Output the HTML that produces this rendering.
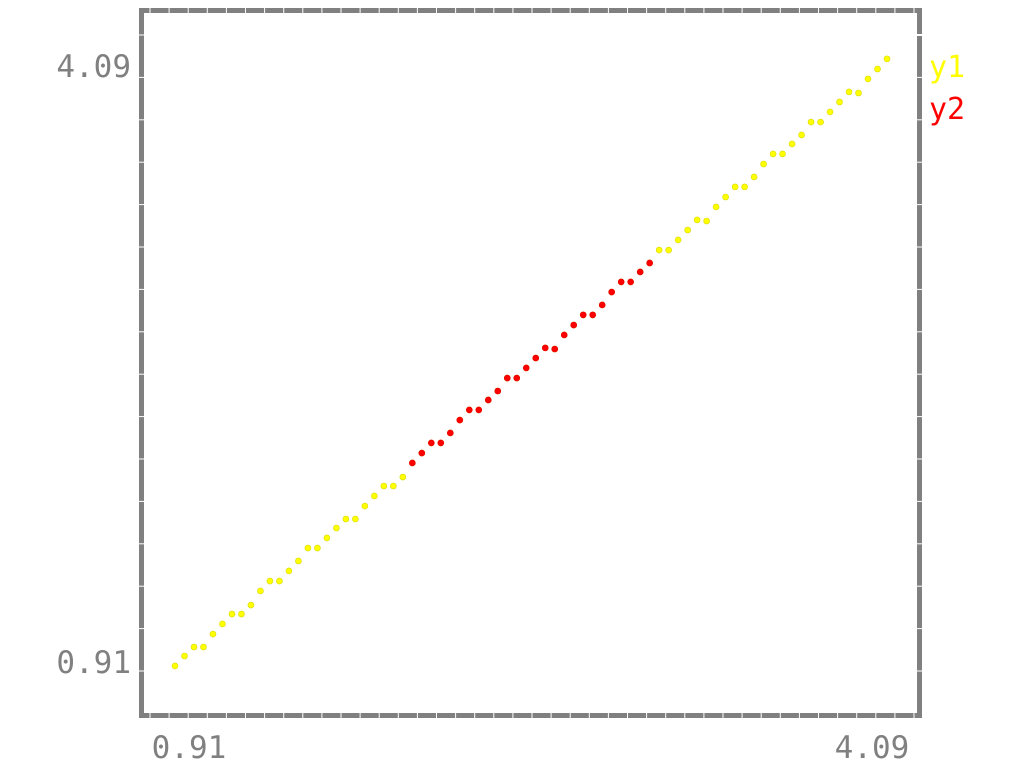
<!DOCTYPE html>
<html><head><meta charset="utf-8"><style>
html,body{margin:0;padding:0;background:#fff;width:1024px;height:768px;overflow:hidden}
text{font-family:"DejaVu Sans Mono","Liberation Mono",monospace}
</style></head><body>
<svg id="chart" width="1024" height="768" xmlns="http://www.w3.org/2000/svg">
<g id="frame"></g>
<g id="marks"></g>
<text x="131" y="77" font-size="31" fill="#808080" text-anchor="end">4.09</text>
<text x="131" y="673" font-size="31" fill="#808080" text-anchor="end">0.91</text>
<text x="189" y="758" font-size="31" fill="#808080" text-anchor="middle">0.91</text>
<text x="872" y="758" font-size="31" fill="#808080" text-anchor="middle">4.09</text>
<text x="929" y="77" font-size="30" fill="#ffff00">y1</text>
<text x="929" y="119" font-size="30" fill="#ff0000">y2</text>
</svg>
<script>
const y1Values=[0.889,0.942,0.990,0.990,1.059,1.113,1.166,1.166,1.214,1.289,1.342,1.342,1.396,1.449,1.518,1.518,1.572,1.625,1.673,1.673,1.742,1.796,1.849,1.849,1.897,1.972,2.025,2.079,2.079,2.132,2.201,2.255,2.255,2.308,2.356,2.425,2.425,2.479,2.532,2.586,2.580,2.655,2.708,2.762,2.762,2.815,2.884,2.938,2.938,2.991,3.039,3.108,3.108,3.162,3.215,3.269,3.263,3.338,3.391,3.445,3.445,3.498,3.567,3.621,3.621,3.674,3.722,3.791,3.791,3.845,3.898,3.952,3.946,4.021,4.074,4.128];
const y2Start=25;
const y2Values=[1.972,2.025,2.079,2.079,2.132,2.201,2.255,2.255,2.308,2.356,2.425,2.425,2.479,2.532,2.586,2.580,2.655,2.708,2.762,2.762,2.815,2.884,2.938,2.938,2.991,3.039];
const NS="http://www.w3.org/2000/svg";
const n=y1Values.length;
function xs(i){return 175+i*(887-175)/(n-1);}
function ys(v){return 662-(v-0.91)*(596/3.18);}
const frame=document.getElementById('frame');
function mk(tag,attrs,parent){const e=document.createElementNS(NS,tag);for(const k in attrs)e.setAttribute(k,attrs[k]);parent.appendChild(e);return e;}
const r=mk('rect',{x:141.5,y:10.5,width:778,height:705,fill:'none',stroke:'#808080','stroke-width':5},frame);


for(let x=150;x<915;x+=19.1){
  const t=mk('line',{x1:x,y1:8,x2:x,y2:13,stroke:'#fff','stroke-width':1},frame);
  
  
  const b=mk('line',{x1:x,y1:713,x2:x,y2:718,stroke:'#fff','stroke-width':1},frame);
  
  
}
for(let y=35;y<713;y+=42.4){
  const l=mk('line',{x1:139,y1:y,x2:144,y2:y,stroke:'#fff','stroke-width':1},frame);
  
  
  const rr=mk('line',{x1:917,y1:y,x2:922,y2:y,stroke:'#fff','stroke-width':y<40?2:1},frame);
  
  
}
const marks=document.getElementById('marks');
y1Values.forEach((v,i)=>{
  const c=mk('circle',{cx:xs(i),cy:ys(v),r:3,fill:'#ffff00',stroke:'#d8d800','stroke-width':0.6},marks);
  
  
});
y2Values.forEach((v,j)=>{
  const c=mk('circle',{cx:xs(y2Start+j),cy:ys(v),r:3,fill:'#ff0000',stroke:'#e00000','stroke-width':0.6},marks);
  
  
});
</script>
</body></html>
